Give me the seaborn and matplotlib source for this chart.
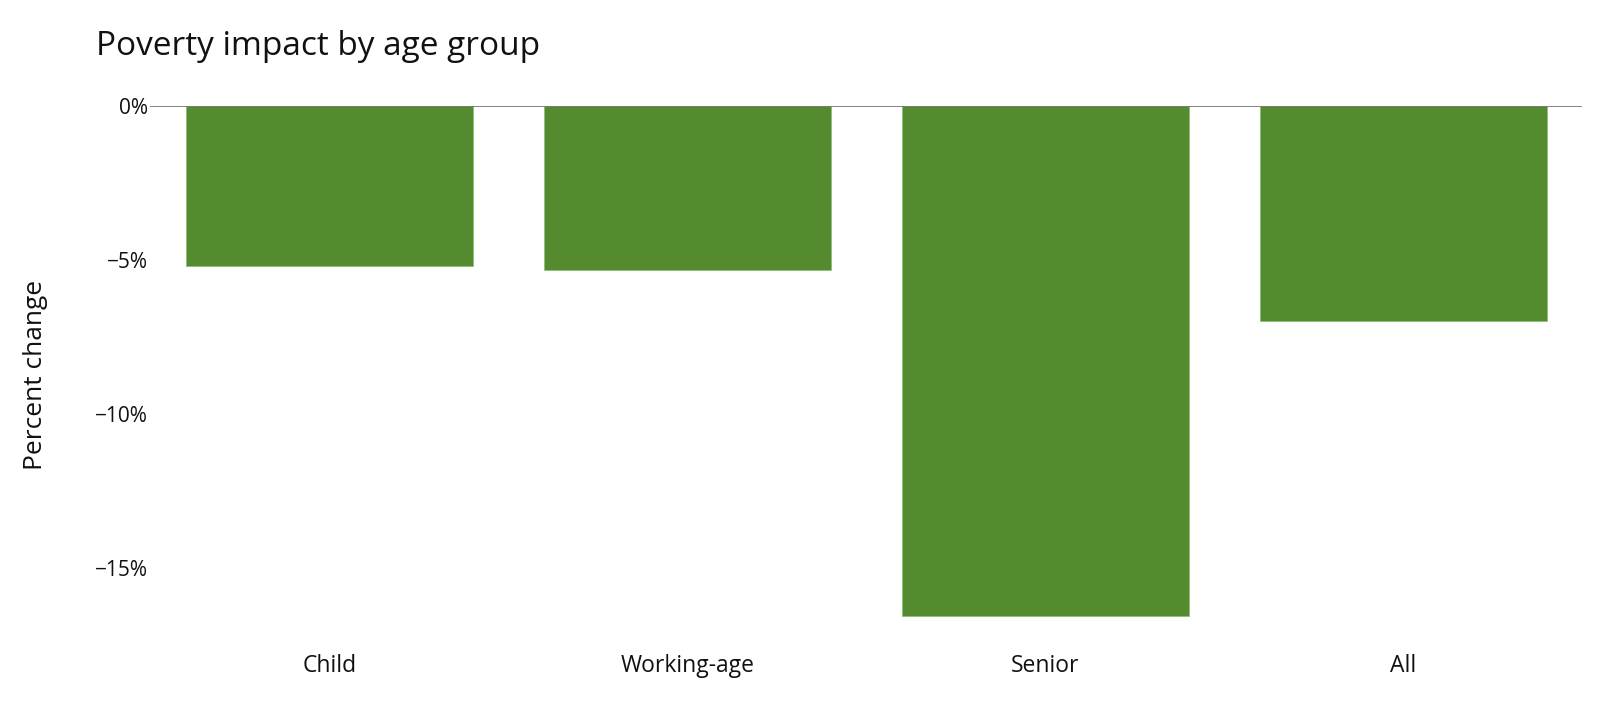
import seaborn as sns
import pandas as pd
from matplotlib import pyplot as plt
from matplotlib.ticker import FuncFormatter

groups = ["Child", "Working-age", "Senior", "All"]
pct_change = [-5.18, -5.31, -16.57, -6.99]
y_ticks = [0, -5, -10, -15]

BAR_COLOR = "#558B2F"


def fmt_pct(v, _pos):
    if v == 0:
        return "0%"
    return f"\u2212{abs(v):.0f}%"


def plot_impact() -> None:
    sns.set_theme(style="white")
    plt.rcParams["font.family"] = ["Open Sans", "DejaVu Sans"]

    df = pd.DataFrame({"group": groups, "change": pct_change})

    fig = plt.figure(figsize=(16, 7.07), dpi=100)
    ax = fig.add_axes([0.094, 0.0905, 0.895, 0.7595])

    sns.barplot(data=df, x="group", y="change", color=BAR_COLOR, saturation=1,
                width=0.8, edgecolor="#8fbf7a", linewidth=0.6, ax=ax)

    ax.set_xlim(-0.5, 3.5)
    ax.set_ylim(-17.44, 0)
    ax.set_yticks(y_ticks)
    ax.yaxis.set_major_formatter(FuncFormatter(fmt_pct))
    ax.axhline(0, color="#6e6e6e", lw=1.2, zorder=5)

    for s in ax.spines.values():
        s.set_visible(False)
    ax.tick_params(axis="both", length=0, colors="#111111")
    ax.tick_params(axis="x", pad=8, labelsize=16.5)
    ax.tick_params(axis="y", pad=2, labelsize=15)
    ax.set_xlabel("")
    ax.set_ylabel("")

    fig.text(0.022, 0.47, "Percent change", rotation=90, ha="center", va="center",
             fontsize=19, color="#111111")
    fig.text(0.060, 0.934, "Poverty impact by age group", ha="left", va="center",
             fontsize=24, color="#111111")

    fig.savefig("out.png", dpi=100)


if __name__ == "__main__":
    plot_impact()
